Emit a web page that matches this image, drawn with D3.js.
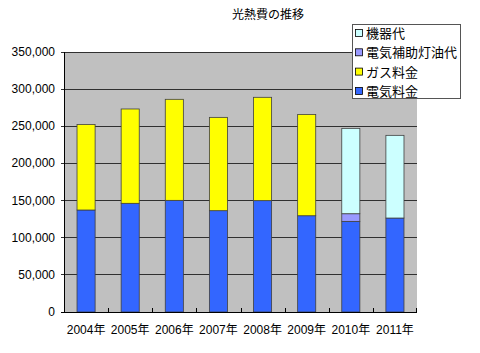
<!DOCTYPE html>
<html><head><meta charset="utf-8">
<script src="https://cdn.jsdelivr.net/npm/d3@7"></script>
<style>body{margin:0;background:#fff;}svg{display:block;font-family:"Liberation Sans","Noto Sans CJK JP",sans-serif;}</style>
</head><body>
<svg id="c" width="480" height="353"></svg>
<script>
const categories = ["2004年","2005年","2006年","2007年","2008年","2009年","2010年","2011年"];
const electric = [137300,146300,150300,136400,149900,129600,122000,126500];
const gas = [115200,127000,136000,125600,139100,136400,0,0];
const kerosene = [0,0,0,0,0,0,10300,0];
const equipment = [0,0,0,0,0,0,114900,111300];
const yTicks = [0,50000,100000,150000,200000,250000,300000,350000];
const seriesNames = ["電気料金","ガス料金","電気補助灯油代","機器代"];
const seriesColors = ["#3366ff","#ffff00","#9999ff","#ccffff"];

const data = categories.map((c,i)=>({cat:c,"電気料金":electric[i],"ガス料金":gas[i],"電気補助灯油代":kerosene[i],"機器代":equipment[i]}));
const stack = d3.stack().keys(seriesNames)(data);

const svg = d3.select("#c");
const L=64,R=417,T=52,B=312;
const x = d3.scaleBand().domain(categories).range([L,R]).paddingInner(0.59).paddingOuter(0.295);
const xb = d3.scaleBand().domain(categories).range([L,R]);
const y = d3.scaleLinear().domain([0,350000]).range([B,T]);

svg.append("rect").attr("x",L).attr("y",T).attr("width",R-L).attr("height",B-T).attr("fill","#c0c0c0");
svg.append("g").selectAll("line").data(yTicks.slice(1)).join("line")
  .attr("x1",L-3).attr("x2",R).attr("y1",d=>y(d)).attr("y2",d=>y(d)).attr("stroke","#303030").attr("stroke-width",1).attr("shape-rendering","crispEdges");

svg.append("g").selectAll("g").data(stack).join("g").attr("fill",(d,i)=>seriesColors[i])
  .selectAll("rect").data(d=>d.filter(p=>p[1]-p[0]>0)).join("rect")
  .attr("x",d=>x(d.data.cat)).attr("width",x.bandwidth())
  .attr("y",d=>y(d[1])).attr("height",d=>y(d[0])-y(d[1]))
  .attr("stroke","#404040").attr("stroke-width",0.8);

// axes
svg.append("line").attr("x1",L).attr("x2",L).attr("y1",T).attr("y2",B).attr("stroke","#000").attr("shape-rendering","crispEdges");
svg.append("line").attr("x1",L-3).attr("x2",R).attr("y1",B).attr("y2",B).attr("stroke","#000").attr("shape-rendering","crispEdges");
svg.append("g").selectAll("line").data(categories.slice(1)).join("line")
  .attr("x1",d=>Math.round(xb(d))+0.5).attr("x2",d=>Math.round(xb(d))+0.5).attr("y1",B).attr("y2",B-4).attr("stroke","#000");
svg.append("line").attr("x1",R-0.5).attr("x2",R-0.5).attr("y1",B).attr("y2",B-4).attr("stroke","#000");

const fmt = d3.format(",");
svg.append("g").selectAll("text").data(yTicks).join("text")
  .attr("x",55).attr("y",d=>y(d)+4).attr("text-anchor","end").attr("font-size",12).attr("fill","#000").text(d=>fmt(d));
svg.append("g").selectAll("text").data(categories).join("text")
  .attr("x",d=>xb(d)+xb.bandwidth()/2).attr("y",334).attr("text-anchor","middle").attr("font-size",12).attr("fill","#000").text(d=>d);

svg.append("text").attr("x",268).attr("y",19).attr("text-anchor","middle").attr("font-size",12).attr("font-family","Noto Sans CJK JP").text("光熱費の推移");

// legend
const lg = svg.append("g");
lg.append("rect").attr("x",352.5).attr("y",24.5).attr("width",108).attr("height",74).attr("fill","#fff").attr("stroke","#555");
const legItems = seriesNames.slice().reverse();
const legColors = seriesColors.slice().reverse();
legItems.forEach((n,i)=>{
  const yy = 33+i*19.3;
  lg.append("rect").attr("x",355.5).attr("y",yy-3.5).attr("width",7).attr("height",7).attr("fill",legColors[i]).attr("stroke","#000").attr("stroke-width",0.8);
  lg.append("text").attr("x",366).attr("y",yy+5).attr("font-size",13).attr("font-family","Noto Sans CJK JP").text(n);
});
</script>
</body></html>
